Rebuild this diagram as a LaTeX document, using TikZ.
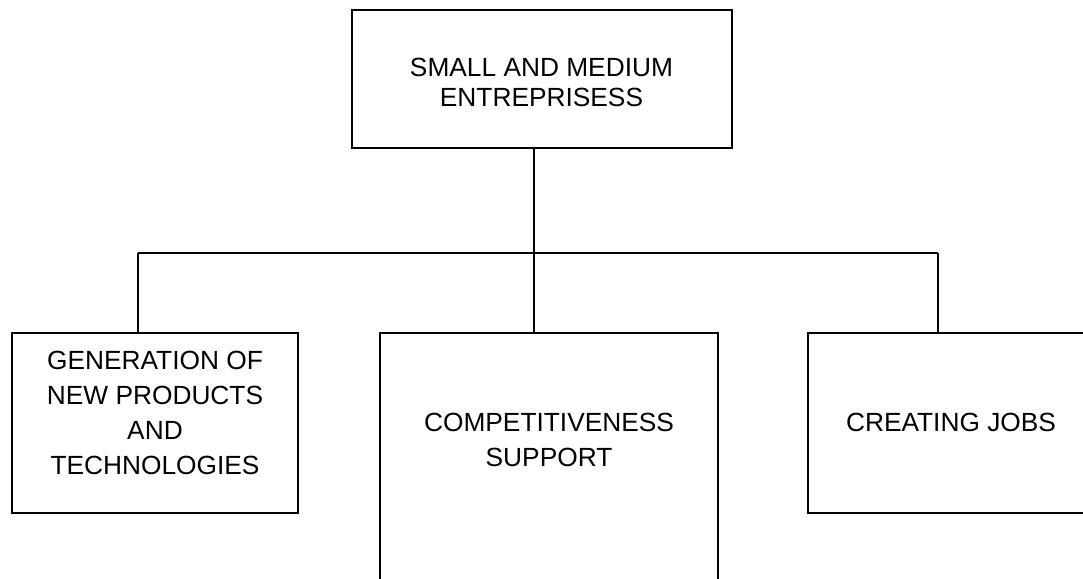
\documentclass[tikz,border=0pt]{standalone}
\usepackage{fontspec}
\setmainfont{Liberation Sans}
\begin{document}
\begin{tikzpicture}[x=1pt,y=1pt,
  box/.style={draw=black, line width=1.4pt, rectangle, inner sep=0pt, outer sep=0pt},
  conn/.style={draw=black, line width=1.3pt},
  lbl/.style={align=center, inner sep=0pt, font=\fontsize{26.3}{35}\selectfont},
  toplbl/.style={align=center, inner sep=0pt, font=\fontsize{26.3}{30.7}\selectfont}]
\clip (0,0) rectangle (1083,-578);
\fill[white] (0,0) rectangle (1083,-578);
% boxes
\node[box, minimum width=380, minimum height=138] (top) at (542,-79) {};
\node[box, minimum width=286, minimum height=180] (gen) at (155,-423) {};
\node[box, minimum width=338, minimum height=280] (comp) at (549,-473) {};
\node[box, minimum width=286, minimum height=180] (jobs) at (951,-423) {};
% texts
\node[toplbl] (toptxt) at (541.5,-82.5) {SMALL AND MEDIUM\\ENTREPRISESS};
\node[lbl] (gentxt) at (155,-413) {GENERATION OF\\NEW PRODUCTS\\AND\\TECHNOLOGIES};
\node[lbl] (comptxt) at (549,-439.5) {COMPETITIVENESS\\SUPPORT};
\node[lbl] (jobstxt) at (951,-422) {CREATING JOBS};
% connectors
\coordinate (bl) at (138,-253);
\coordinate (j) at (534,-253);
\coordinate (br) at (938,-253);
\draw[conn] (j |- top.south) -- (j);
\draw[conn] (bl) -- (br);
\draw[conn] (bl) -- (bl |- gen.north);
\draw[conn] (j) -- (j |- comp.north);
\draw[conn] (br) -- (br |- jobs.north);
\end{tikzpicture}
\end{document}
